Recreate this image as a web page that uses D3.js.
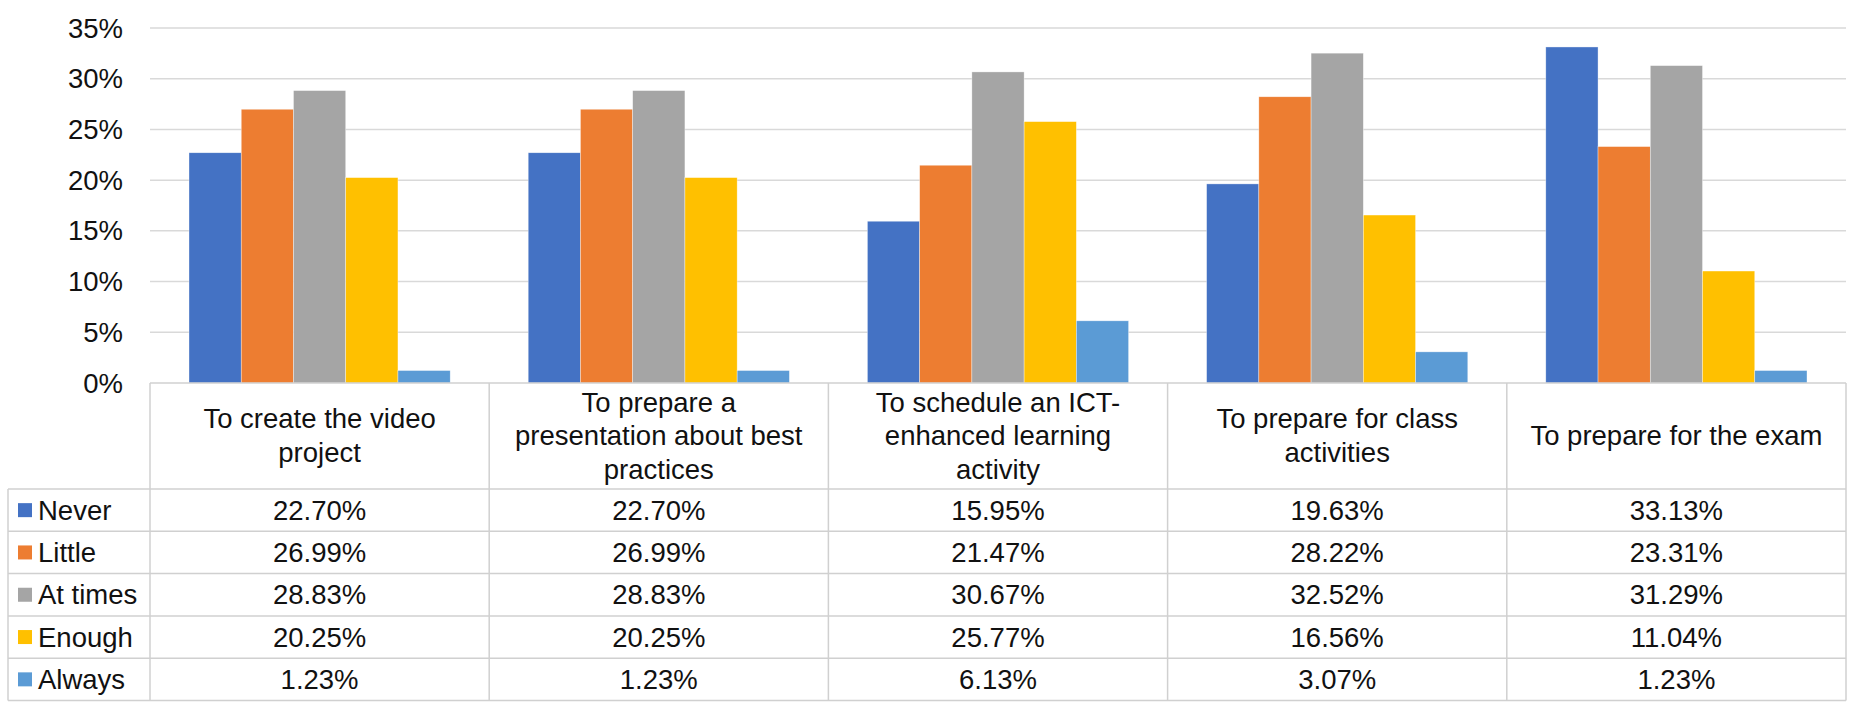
<!DOCTYPE html>
<html>
<head>
<meta charset="utf-8">
<script src="https://cdn.jsdelivr.net/npm/d3@7"></script>
<style>
  body { margin: 0; background: #fff; }
  svg text { font-family: "Liberation Sans", Arial, sans-serif; fill: #111; }
</style>
</head>
<body>
<svg id="chart" width="1856" height="713"></svg>
<script>
// categories, with the line breaks used in the table header
const categories = [
  "To create the video project",
  "To prepare a presentation about best practices",
  "To schedule an ICT-enhanced learning activity",
  "To prepare for class activities",
  "To prepare for the exam"
];
const categoryLines = [
  ["To create the video", "project"],
  ["To prepare a", "presentation about best", "practices"],
  ["To schedule an ICT-", "enhanced learning", "activity"],
  ["To prepare for class", "activities"],
  ["To prepare for the exam"]
];

const seriesNames = ["Never", "Little", "At times", "Enough", "Always"];
const seriesColors = ["#4472C4", "#ED7D31", "#A5A5A5", "#FFC000", "#5B9BD5"];

// one array per series, in category order (percent)
const never   = [22.70, 22.70, 15.95, 19.63, 33.13];
const little  = [26.99, 26.99, 21.47, 28.22, 23.31];
const atTimes = [28.83, 28.83, 30.67, 32.52, 31.29];
const enough  = [20.25, 20.25, 25.77, 16.56, 11.04];
const always  = [1.23, 1.23, 6.13, 3.07, 1.23];
const seriesValues = [never, little, atTimes, enough, always];

const yTicks = [0, 5, 10, 15, 20, 25, 30, 35];

const svg = d3.select("#chart");

// layout
const plotLeft = 150, plotRight = 1846;
const plotTop = 28, plotBottom = 383;
const headerBottom = 489;
const rowH = 42.3;
const tableLeft = 8;
const fontSize = 27.5;
const lineColor = "#d0d0d0";

const x0 = d3.scaleBand()
  .domain(d3.range(categories.length))
  .range([plotLeft, plotRight])
  .paddingInner(0)
  .paddingOuter(0);

const x1 = d3.scaleBand()
  .domain(d3.range(seriesNames.length))
  .range([39, x0.bandwidth() - 39]);

const y = d3.scaleLinear().domain([0, 35]).range([plotBottom, plotTop]);

// gridlines
svg.append("g")
  .selectAll("line")
  .data(yTicks.filter(d => d > 0))
  .enter().append("line")
    .attr("x1", plotLeft).attr("x2", plotRight)
    .attr("y1", d => y(d)).attr("y2", d => y(d))
    .style("stroke", "#d9d9d9")
    .style("stroke-width", 1.5);

// y tick labels
svg.append("g")
  .selectAll("text")
  .data(yTicks)
  .enter().append("text")
    .attr("x", 123)
    .attr("y", d => y(d) + 9.5)
    .attr("text-anchor", "end")
    .attr("font-size", fontSize)
    .text(d => d + "%");

// bars
const groups = svg.append("g")
  .selectAll("g")
  .data(categories)
  .enter().append("g")
    .attr("transform", (d, i) => "translate(" + x0(i) + ",0)");

groups.selectAll("rect")
  .data((d, ci) => seriesValues.map((vals, si) => ({ s: si, v: vals[ci] })))
  .enter().append("rect")
    .attr("x", d => x1(d.s))
    .attr("width", x1.bandwidth())
    .attr("y", d => y(d.v))
    .attr("height", d => y(0) - y(d.v))
    .style("fill", d => seriesColors[d.s])
    .style("stroke", "#fff")
    .style("stroke-width", 0.6)
    .style("stroke-opacity", 0.6);

// data table
const table = svg.append("g");
const tableBottom = headerBottom + rowH * seriesNames.length;

// horizontal lines
table.append("line")
  .attr("x1", plotLeft).attr("x2", plotRight)
  .attr("y1", plotBottom).attr("y2", plotBottom)
  .style("stroke", lineColor).style("stroke-width", 1.5);

table.selectAll(".hline")
  .data(d3.range(seriesNames.length + 1))
  .enter().append("line")
    .attr("class", "hline")
    .attr("x1", tableLeft).attr("x2", plotRight)
    .attr("y1", i => headerBottom + i * rowH)
    .attr("y2", i => headerBottom + i * rowH)
    .style("stroke", lineColor).style("stroke-width", 1.5);

// vertical lines
table.selectAll(".vline")
  .data(d3.range(categories.length + 1))
  .enter().append("line")
    .attr("class", "vline")
    .attr("x1", i => plotLeft + i * x0.bandwidth())
    .attr("x2", i => plotLeft + i * x0.bandwidth())
    .attr("y1", plotBottom).attr("y2", tableBottom)
    .style("stroke", lineColor).style("stroke-width", 1.5);

table.append("line")
  .attr("x1", tableLeft).attr("x2", tableLeft)
  .attr("y1", headerBottom).attr("y2", tableBottom)
  .style("stroke", lineColor).style("stroke-width", 1.5);

// header labels
const headerMid = 445, lineGap = 33.5;
categoryLines.forEach(function(lines, ci) {
  const cx = x0(ci) + x0.bandwidth() / 2;
  const start = headerMid - (lines.length - 1) * lineGap / 2;
  table.append("text")
    .attr("text-anchor", "middle")
    .attr("font-size", fontSize)
    .selectAll("tspan")
    .data(lines)
    .enter().append("tspan")
      .attr("x", cx)
      .attr("y", (d, i) => start + i * lineGap)
      .text(d => d);
});

// legend rows
const rows = table.selectAll(".row")
  .data(seriesNames)
  .enter().append("g")
    .attr("class", "row")
    .attr("transform", (d, i) => "translate(0," + (headerBottom + i * rowH) + ")");

rows.append("rect")
  .attr("x", 18).attr("y", rowH / 2 - 7)
  .attr("width", 14).attr("height", 14)
  .style("fill", (d, i) => seriesColors[i]);

rows.append("text")
  .attr("x", 38).attr("y", rowH / 2 + 9.5)
  .attr("font-size", fontSize)
  .text(d => d);

rows.each(function(name, si) {
  d3.select(this).selectAll(".val")
    .data(seriesValues[si])
    .enter().append("text")
      .attr("class", "val")
      .attr("x", (d, ci) => x0(ci) + x0.bandwidth() / 2)
      .attr("y", rowH / 2 + 9.5)
      .attr("text-anchor", "middle")
      .attr("font-size", fontSize)
      .text(d => d.toFixed(2) + "%");
});
</script>
</body>
</html>
